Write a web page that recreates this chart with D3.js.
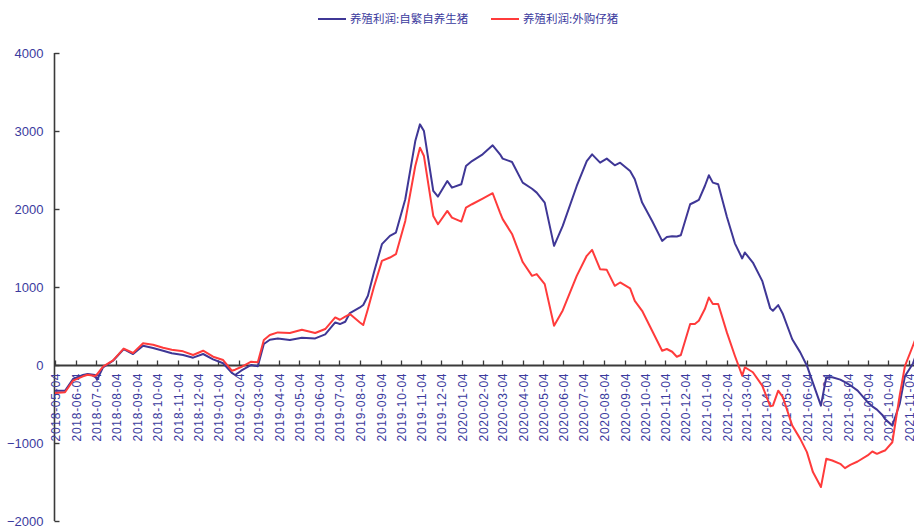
<!DOCTYPE html>
<html>
<head>
<meta charset="utf-8">
<script src="https://cdn.jsdelivr.net/npm/d3@7"></script>
<style>
  html, body { margin: 0; padding: 0; background: #fff; }
  svg { display: block; }
</style>
</head>
<body>
<svg id="chart" width="914" height="532"></svg>
<script>
// ---------- data ----------
const seriesNames = ["养殖利润:自繁自养生猪", "养殖利润:外购仔猪"];

const dates = [
  "2018-05-04","2018-05-19","2018-05-31","2018-06-15","2018-06-22","2018-07-03","2018-07-06","2018-07-15","2018-07-30",
  "2018-08-15","2018-08-29","2018-09-13","2018-09-28","2018-10-13","2018-10-26","2018-11-12","2018-11-27","2018-12-12",
  "2018-12-27","2019-01-11","2019-01-24","2019-01-29","2019-02-07","2019-02-22","2019-03-04","2019-03-13","2019-03-22",
  "2019-04-03","2019-04-21","2019-05-09","2019-05-29","2019-06-13","2019-06-28","2019-07-05","2019-07-13","2019-07-20",
  "2019-08-04","2019-08-09","2019-08-16","2019-08-25","2019-09-06","2019-09-18","2019-09-27","2019-10-11","2019-10-26",
  "2019-11-02","2019-11-08","2019-11-22","2019-11-29","2019-12-13","2019-12-20","2020-01-03","2020-01-10","2020-01-19",
  "2020-02-04","2020-02-19","2020-03-01","2020-03-05","2020-03-19","2020-04-04","2020-04-18","2020-04-25","2020-05-07",
  "2020-05-21","2020-06-03","2020-06-24","2020-07-09","2020-07-17","2020-07-29","2020-08-08","2020-08-20","2020-08-28",
  "2020-09-12","2020-09-19","2020-09-30","2020-10-15","2020-10-30","2020-11-06","2020-11-14","2020-11-21","2020-11-27",
  "2020-12-11","2020-12-18","2020-12-24","2021-01-02","2021-01-08","2021-01-14","2021-01-22","2021-02-04","2021-02-16",
  "2021-02-27","2021-03-03","2021-03-15","2021-03-29","2021-04-10","2021-04-14","2021-04-22","2021-04-29","2021-05-13",
  "2021-05-25","2021-06-04","2021-06-13","2021-06-25","2021-07-03","2021-07-12","2021-07-24","2021-07-31","2021-08-08",
  "2021-08-19","2021-09-03","2021-09-10","2021-09-17","2021-09-25","2021-09-29","2021-10-10","2021-10-21","2021-10-29",
  "2021-11-10","2021-11-14"
];

// 养殖利润:自繁自养生猪
const profitSelfBred = [
  -330,-330,-180,-128,-115,-128,-190,-30,55,
  205,140,247,218,183,150,128,94,141,
  73,22,-100,-128,-73,0,-17,269,324,
  341,320,350,341,393,546,525,555,666,
  738,770,887,1186,1549,1655,1698,2125,2871,
  3085,2999,2231,2159,2359,2274,2317,2551,2615,
  2701,2816,2701,2646,2603,2338,2260,2210,2082,
  1527,1783,2295,2615,2701,2594,2646,2560,2594,
  2487,2381,2082,1847,1591,1640,1650,1647,1664,
  2061,2090,2116,2295,2432,2338,2317,1900,1560,
  1366,1442,1314,1079,726,695,768,653,330,
  162,-9,-230,-521,-157,-157,-188,-220,-260,
  -329,-477,-530,-572,-640,-691,-777,-500,-140,
  20,120
];

// 养殖利润:外购仔猪
const profitPurchased = [
  -358,-350,-200,-145,-125,-140,-120,-20,60,
  210,154,278,260,222,196,175,128,183,
  106,64,-73,-60,-26,42,34,320,384,
  418,410,452,410,461,610,580,620,653,
  546,512,717,1000,1335,1378,1421,1847,2551,
  2786,2679,1911,1805,1975,1890,1839,2018,2061,
  2133,2202,1954,1870,1680,1320,1143,1165,1037,
  503,700,1143,1400,1476,1229,1220,1015,1058,
  982,823,695,439,183,205,170,106,128,
  525,525,567,717,866,781,781,418,119,
  -137,-29,-93,-265,-529,-521,-329,-413,-777,
  -947,-1117,-1373,-1565,-1203,-1225,-1267,-1322,-1280,
  -1237,-1160,-1109,-1139,-1109,-1097,-990,-393,-10,
  250,340
];

const yTicks = [-2000, -1000, 0, 1000, 2000, 3000, 4000];

const xTickLabels = [
  "2018-05-04","2018-06-04","2018-07-04","2018-08-04","2018-09-04","2018-10-04","2018-11-04","2018-12-04",
  "2019-01-04","2019-02-04","2019-03-04","2019-04-04","2019-05-04","2019-06-04","2019-07-04","2019-08-04",
  "2019-09-04","2019-10-04","2019-11-04","2019-12-04","2020-01-04","2020-02-04","2020-03-04","2020-04-04",
  "2020-05-04","2020-06-04","2020-07-04","2020-08-04","2020-09-04","2020-10-04","2020-11-04","2020-12-04",
  "2021-01-04","2021-02-04","2021-03-04","2021-04-04","2021-05-04","2021-06-04","2021-07-04","2021-08-04",
  "2021-09-04","2021-10-04","2021-11-04"
];

// ---------- drawing ----------
const W = 914, H = 532;
const svg = d3.select("#chart");
const parse = d3.utcParse("%Y-%m-%d");
const textColor = "#3b3b9e";
const axisColor = "#3a3a3a";
const colors = ["#3f3796", "#ff3b3b"];

const x = d3.scaleUtc()
  .domain([parse(xTickLabels[0]), parse(xTickLabels[xTickLabels.length - 1])])
  .range([55, 909]);
const y = d3.scaleLinear().domain([-2000, 4000]).range([521, 53]);

// Y axis
const yAxis = svg.append("g").attr("transform", "translate(54.5,0)");
yAxis.append("line").attr("x1", 0).attr("x2", 0).attr("y1", y(4000)).attr("y2", y(-2000))
  .attr("stroke", axisColor).attr("stroke-width", 1.6);
yTicks.forEach(v => {
  yAxis.append("line").attr("x1", 0).attr("x2", 5).attr("y1", Math.round(y(v)) + 0.5).attr("y2", Math.round(y(v)) + 0.5)
    .attr("stroke", axisColor).attr("stroke-width", 1.4);
  yAxis.append("text").attr("x", -11).attr("y", y(v)).attr("dy", "0.35em")
    .attr("text-anchor", "end").attr("font-family", "Liberation Sans, Arial, sans-serif")
    .attr("font-size", 13).attr("fill", textColor)
    .text(d3.format("")(v).replace("-", "\u2212"));
});

// X axis (at y = 0)
const y0 = Math.round(y(0)) + 0.5;
const xAxis = svg.append("g");
xAxis.append("line").attr("x1", 54).attr("x2", W).attr("y1", y0).attr("y2", y0)
  .attr("stroke", axisColor).attr("stroke-width", 1.8);
xTickLabels.forEach(lbl => {
  const px = Math.round(x(parse(lbl))) + 0.5;
  xAxis.append("line").attr("x1", px).attr("x2", px).attr("y1", y0).attr("y2", y0 - 5)
    .attr("stroke", axisColor).attr("stroke-width", 1.3);
  xAxis.append("text")
    .attr("transform", `translate(${px},${y0 + 8}) rotate(-90)`)
    .attr("dy", "0.35em").attr("text-anchor", "end")
    .attr("font-family", "Liberation Sans, Arial, sans-serif").attr("font-size", 12)
    .attr("textLength", 68).attr("lengthAdjust", "spacing")
    .attr("fill", textColor).text(lbl);
});

// Lines
const clip = svg.append("clipPath").attr("id", "plotclip")
  .append("rect").attr("x", 55).attr("y", 0).attr("width", W - 55).attr("height", H);
const line = d3.line().x(d => x(d[0])).y(d => y(d[1]));
const parsed = dates.map(parse);
[profitSelfBred, profitPurchased].forEach((vals, i) => {
  svg.append("path")
    .datum(parsed.map((d, j) => [d, vals[j]]))
    .attr("d", line)
    .attr("fill", "none")
    .attr("stroke", colors[i])
    .attr("stroke-width", 2)
    .attr("stroke-linejoin", "round")
    .attr("clip-path", "url(#plotclip)");
});

// Legend
const legendItems = [{x: 318, tx: 350}, {x: 491, tx: 523}];
legendItems.forEach((it, i) => {
  svg.append("line").attr("x1", it.x).attr("x2", it.x + 28).attr("y1", 19).attr("y2", 19)
    .attr("stroke", colors[i]).attr("stroke-width", 2);
  svg.append("text").attr("x", it.tx).attr("y", 19).attr("dy", "0.35em")
    .attr("font-family", "Noto Sans CJK SC, sans-serif").attr("font-size", 11.5)
    .attr("fill", textColor).text(seriesNames[i]);
});
</script>
</body>
</html>
